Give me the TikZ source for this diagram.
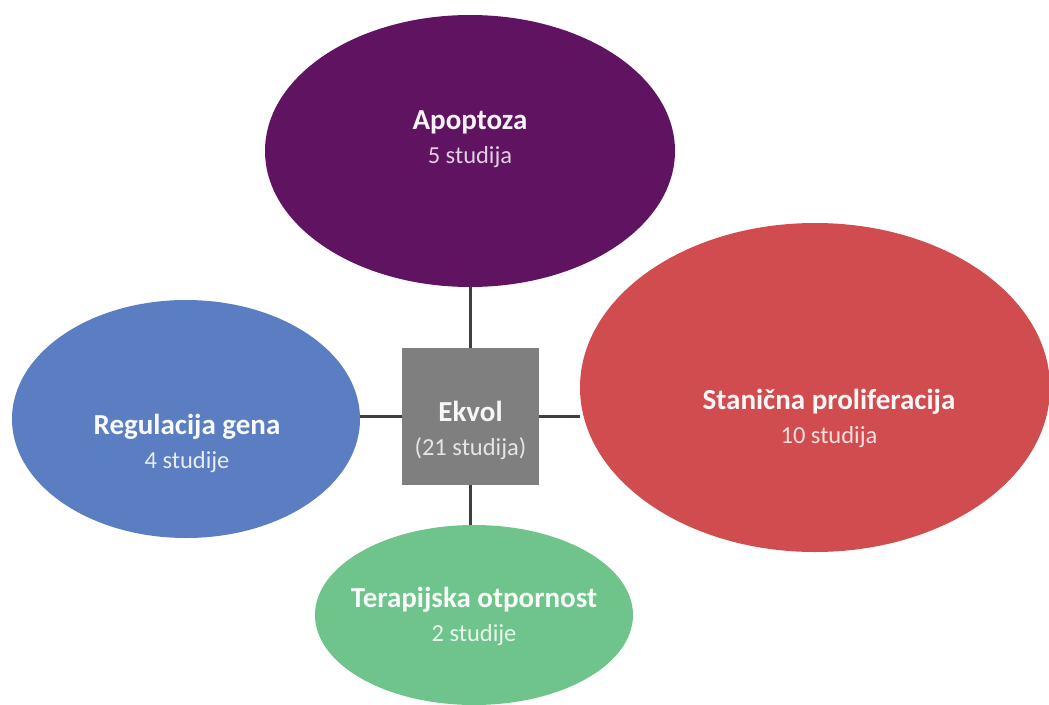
\documentclass[tikz,border=0pt]{standalone}
\usepackage{fontspec}
\setmainfont{Carlito}
\usetikzlibrary{shapes.geometric}
\definecolor{cPurple}{HTML}{5F1361}
\definecolor{cRed}{HTML}{D14C4F}
\definecolor{cBlue}{HTML}{5B7EC2}
\definecolor{cGreen}{HTML}{6EC48A}
\definecolor{cGray}{HTML}{7F7F7F}
\definecolor{cLine}{HTML}{3F3F3F}
\tikzset{
  blob/.style={ellipse, draw=none, inner sep=0pt},
  lbl/.style={align=center, inner sep=0pt, font=\fontsize{24.5}{34}\selectfont},
  conn/.style={draw=cLine, line width=3pt},
}
\newcommand{\ttl}[1]{{\bfseries\fontsize{29}{34}\selectfont #1}}
\begin{document}
\begin{tikzpicture}[x=1pt,y=-1pt]
\useasboundingbox (0,0) rectangle (1049,704);
\clip (0,0) rectangle (1049,704);
% shapes
\node[blob, fill=cPurple, minimum width=410pt, minimum height=272pt] (apop) at (470,151) {};
\node[blob, fill=cBlue, minimum width=348pt, minimum height=238pt] (reg) at (186,419) {};
\node[blob, fill=cRed, minimum width=470pt, minimum height=329pt] (prol) at (815,387.5) {};
\node[blob, fill=cGreen, minimum width=318pt, minimum height=180pt] (ther) at (474,615) {};
\node[rectangle, fill=cGray, minimum width=137pt, minimum height=137pt, inner sep=0pt] (ekv) at (470.5,416.5) {};
% connectors
\draw[conn] (ekv.north) -- (ekv.north |- apop.south);
\draw[conn] (ekv.west) -- (ekv.west -| reg.east);
\draw[conn] (ekv.east) -- (ekv.east -| prol.west);
\draw[conn] (ekv.south) -- (ekv.south |- ther.north);
% texts
\node[lbl, text=white!80!cPurple] (apopT) at (470,139) {\textcolor{white!95!cPurple}{\ttl{Apoptoza}}\\5 studija};
\node[lbl, text=white!82!cRed] (prolT) at (829,418) {\textcolor{white!96!cRed}{\ttl{Stanična proliferacija}}\\10 studija};
\node[lbl, text=white!85!cBlue] (regT) at (187,443) {\textcolor{white!96!cBlue}{\ttl{Regulacija gena}}\\4 studije};
\node[lbl, text=white!85!cGreen] (therT) at (474,616) {\textcolor{white!96!cGreen}{\ttl{Terapijska otpornost}}\\2 studije};
\node[lbl, text=white!80!cGray] (ekvT) at (470.5,430) {\textcolor{white!94!cGray}{\ttl{Ekvol}}\\(21 studija)};
\end{tikzpicture}
\end{document}
